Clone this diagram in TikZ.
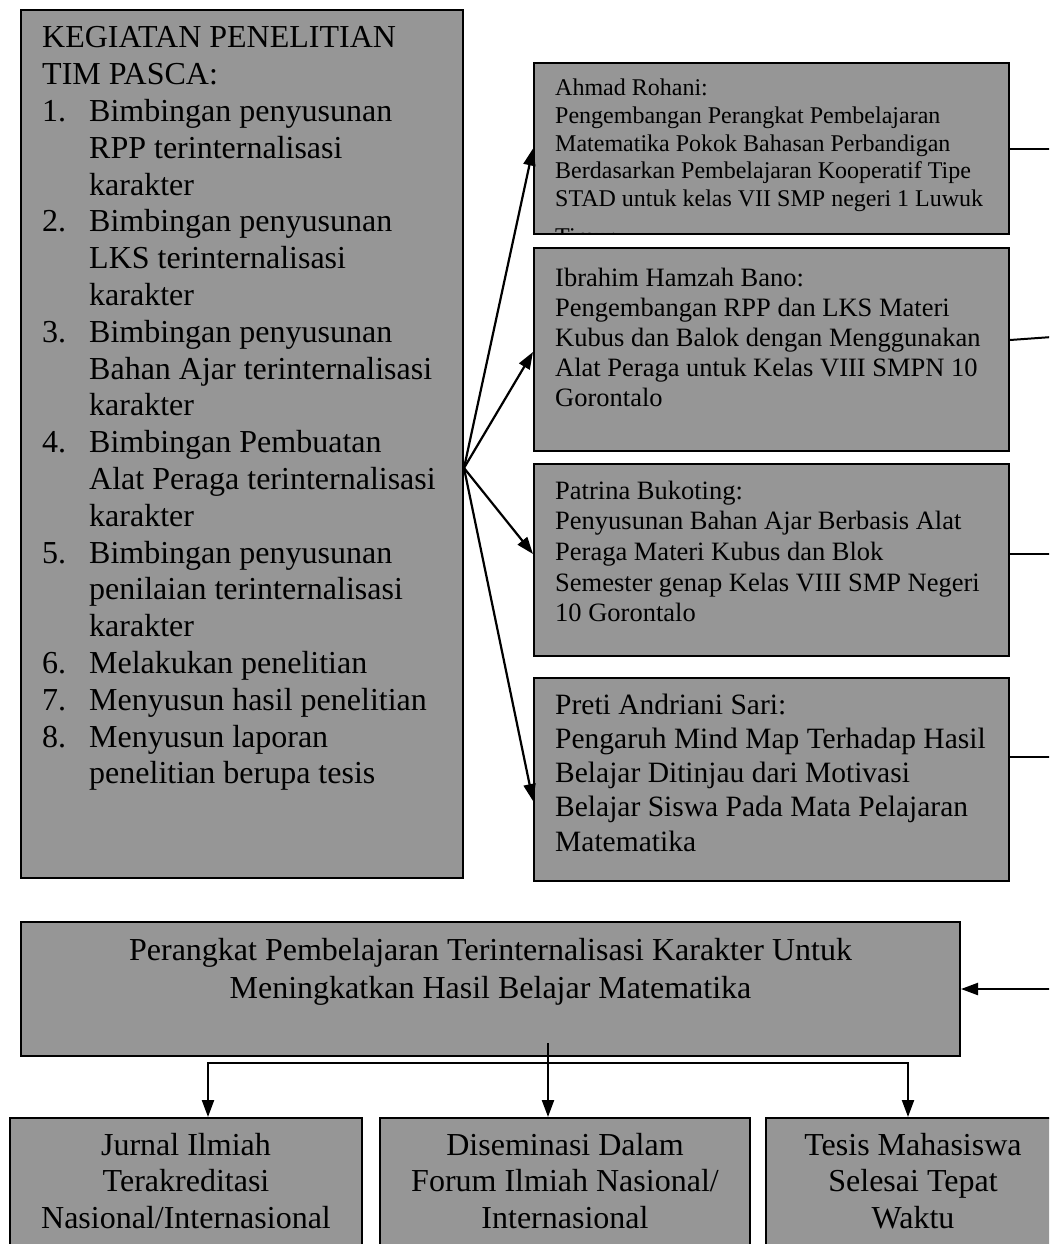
\documentclass[tikz,border=0pt]{standalone}
\usepackage{fontspec}
\setmainfont{Liberation Serif}
\usetikzlibrary{
    arrows.meta,
    positioning,
    calc
}
\definecolor{boxgray}{RGB}{150,150,150}
\tikzset{
    graybox/.style={
        draw,
        rectangle,
        line width=2pt,
        fill=boxgray,
        inner sep=0pt,
        anchor=north west
    },
    txt/.style={
        inner sep=0pt,
        anchor=base west
    },
    ctxt/.style={
        inner sep=0pt,
        anchor=base
    },
    arr/.style={
        -{Triangle[length=17pt,width=12pt]},
        line width=2.2pt
    },
    link/.style={
        line width=2pt
    }
}

\begin{document}
\begin{tikzpicture}[
    x=1pt, y=-1pt,
    fbig/.style={font=\fontsize{32}{36.8}\selectfont},
    fsmall/.style={font=\fontsize{24}{27.6}\selectfont},
    fmid/.style={font=\fontsize{26.5}{30.2}\selectfont},
    fmidb/.style={font=\fontsize{26.5}{30.7}\selectfont},
    flarge/.style={font=\fontsize{29.5}{34.3}\selectfont},
    fhead/.style={font=\fontsize{32}{38}\selectfont}
]
\useasboundingbox (0,0) rectangle (1049,1244);
\clip (0,0) rectangle (1049,1244);

% boxes
\node[graybox, minimum width=442pt, minimum height=868pt] (keg) at (20,9) {};
\node[graybox, minimum width=475pt, minimum height=171pt] (rohani) at (533,62) {};
\node[graybox, minimum width=475pt, minimum height=203pt] (bano) at (533,247) {};
\node[graybox, minimum width=475pt, minimum height=192pt] (bukoting) at (533,463) {};
\node[graybox, minimum width=475pt, minimum height=203pt] (sari) at (533,677) {};
\node[graybox, minimum width=939pt, minimum height=134pt] (perangkat) at (20,921) {};
\node[graybox, minimum width=352pt, minimum height=160pt] (jurnal) at (9,1117) {};
\node[graybox, minimum width=370pt, minimum height=160pt] (diseminasi) at (379,1117) {};
\node[graybox, minimum width=294pt, minimum height=160pt] (tesis) at (765,1117) {};

% texts
\node[txt, fbig] (kegtxt) at ([xshift=22pt,yshift=-39pt]keg.north west) {%
\begin{tabular}[t]{@{}p{47pt}@{}l@{}}
\multicolumn{2}{@{}l@{}}{KEGIATAN PENELITIAN}\\
\multicolumn{2}{@{}l@{}}{TIM PASCA:}\\
1. & Bimbingan penyusunan\\
   & RPP terinternalisasi\\
   & karakter\\
2. & Bimbingan penyusunan\\
   & LKS terinternalisasi\\
   & karakter\\
3. & Bimbingan penyusunan\\
   & Bahan Ajar terinternalisasi\\
   & karakter\\
4. & Bimbingan Pembuatan\\
   & Alat Peraga terinternalisasi\\
   & karakter\\
5. & Bimbingan penyusunan\\
   & penilaian terinternalisasi\\
   & karakter\\
6. & Melakukan penelitian\\
7. & Menyusun hasil penelitian\\
8. & Menyusun laporan\\
   & penelitian berupa tesis
\end{tabular}};

\begin{scope}
\clip (rohani.north west) rectangle ([yshift=2pt]rohani.south east);
\node[txt, fsmall] (rohanitxt) at ([xshift=22pt,yshift=-34pt]rohani.north west) {%
\begin{tabular}[t]{@{}l@{}}
Ahmad Rohani:\\
Pengembangan Perangkat Pembelajaran\\
Matematika Pokok Bahasan Perbandigan\\
Berdasarkan Pembelajaran Kooperatif Tipe\\
STAD untuk kelas VII SMP negeri 1 Luwuk\\[10pt]
Timur
\end{tabular}};
\end{scope}

\node[txt, fmid] (banotxt) at ([xshift=22pt,yshift=-39pt]bano.north west) {%
\begin{tabular}[t]{@{}l@{}}
Ibrahim Hamzah Bano:\\
Pengembangan RPP dan LKS Materi\\
Kubus dan Balok dengan Menggunakan\\
Alat Peraga untuk Kelas VIII SMPN 10\\
Gorontalo
\end{tabular}};

\node[txt, fmidb] (bukotingtxt) at ([xshift=22pt,yshift=-36pt]bukoting.north west) {%
\begin{tabular}[t]{@{}l@{}}
Patrina Bukoting:\\
Penyusunan Bahan Ajar Berbasis Alat\\
Peraga Materi Kubus dan Blok\\
Semester genap Kelas VIII SMP Negeri\\
10 Gorontalo
\end{tabular}};

\node[txt, flarge] (saritxt) at ([xshift=22pt,yshift=-37pt]sari.north west) {%
\begin{tabular}[t]{@{}l@{}}
Preti Andriani Sari:\\
Pengaruh Mind Map Terhadap Hasil\\
Belajar Ditinjau dari Motivasi\\
Belajar Siswa Pada Mata Pelajaran\\
Matematika
\end{tabular}};

\node[ctxt, fhead] (perangkattxt) at ([yshift=-39pt]perangkat.north) {%
\begin{tabular}[t]{@{}c@{}}
Perangkat Pembelajaran Terinternalisasi Karakter Untuk\\
Meningkatkan Hasil Belajar Matematika
\end{tabular}};

\node[ctxt, fbig] (jurnaltxt) at ([yshift=-38pt]jurnal.north) {%
\begin{tabular}[t]{@{}c@{}}
Jurnal Ilmiah\\ Terakreditasi\\ Nasional/Internasional
\end{tabular}};
\node[ctxt, fbig] (diseminasitxt) at ([yshift=-38pt]diseminasi.north) {%
\begin{tabular}[t]{@{}c@{}}
Diseminasi Dalam\\ Forum Ilmiah Nasional/\\ Internasional
\end{tabular}};
\node[ctxt, fbig] (tesistxt) at ([yshift=-38pt]tesis.north) {%
\begin{tabular}[t]{@{}c@{}}
Tesis Mahasiswa\\ Selesai Tepat\\ Waktu
\end{tabular}};

% fan of arrows
\coordinate (fan) at ([yshift=-24pt]keg.east);
\draw[arr] (fan) -- (rohani.west);
\draw[arr] (fan) -- ([yshift=-2.5pt]bano.west);
\draw[arr] (fan) -- ([yshift=6pt]bukoting.west);
\draw[arr] (fan) -- ([yshift=-21.5pt]sari.west);

% lines leaving to the right
\coordinate (rohaniout) at (rohani.east -| 1052,0);
\coordinate (banoout) at (1052,337);
\coordinate (bukotingout) at ([yshift=6pt]bukoting.east -| 1052,0);
\coordinate (sariout) at ([yshift=22.5pt]sari.east -| 1052,0);
\draw[link] (rohani.east) -- (rohaniout);
\draw[link] ([yshift=9.5pt]bano.east) -- (banoout);
\draw[link] ([yshift=6pt]bukoting.east) -- (bukotingout);
\draw[link] ([yshift=22.5pt]sari.east) -- (sariout);

% feedback and outputs
\coordinate (feedin) at (perangkat.east -| 1052,0);
\draw[arr] (feedin) -- (perangkat.east);

\coordinate (split) at (548,1043);
\coordinate (bar) at (548,1063);
\draw[arr] (split) -- (split |- diseminasi.north);
\draw[arr] (bar) -| ([xshift=22pt]jurnal.north);
\draw[arr] (bar) -| ([xshift=-5pt]tesis.north);

\end{tikzpicture}
\end{document}
